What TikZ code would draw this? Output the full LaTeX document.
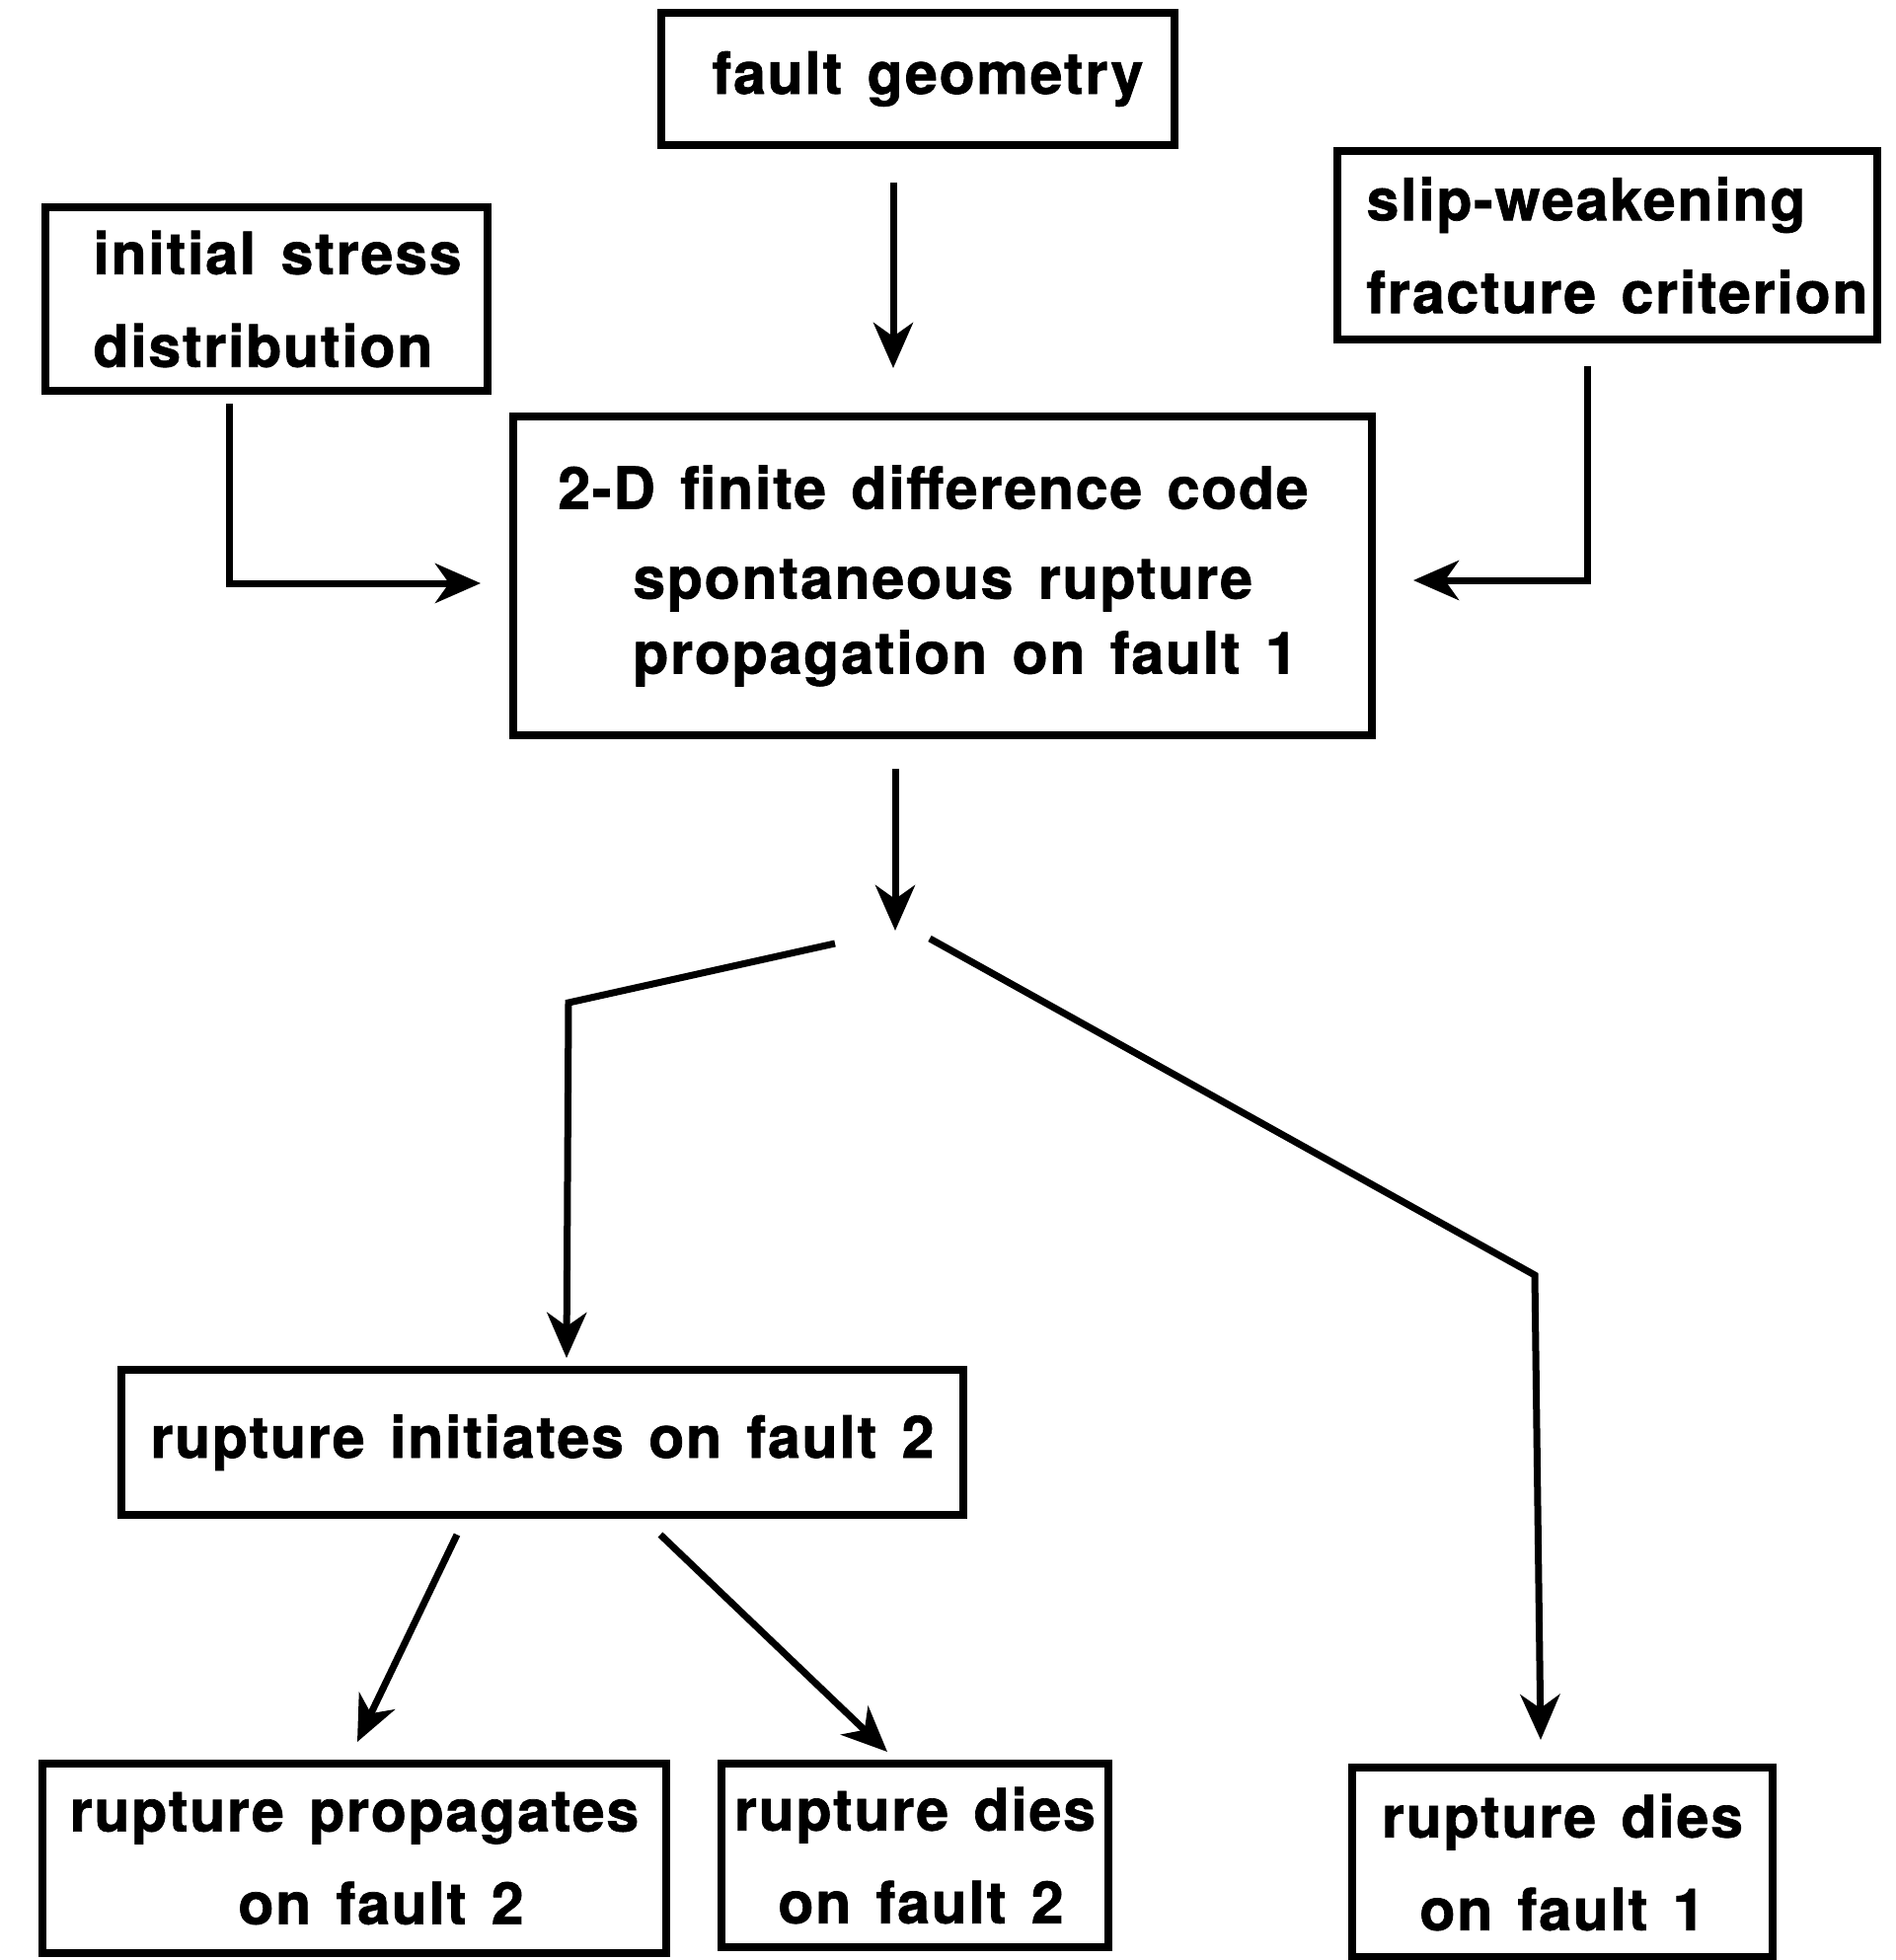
\documentclass[tikz,border=0pt]{standalone}
\usepackage{fontspec}
\setmainfont{TeX Gyre Heros}[LetterSpace=3,WordSpace=1.4,BoldFeatures={FakeBold=1.2}]
\usetikzlibrary{arrows.meta,calc}
\begin{document}
\begin{tikzpicture}[x=1pt,y=-1pt,
  box/.style={draw, line width=8pt, inner sep=0pt, font=\bfseries\fontsize{59}{94}\selectfont},
  arr/.style={line width=7pt, -{Stealth[length=46pt,width=40pt,inset=14pt]}}]
\useasboundingbox (0,0) rectangle (1921,1986);
\node[box, minimum width=520pt, minimum height=134pt] (geom) at (930,80) {\hspace*{20pt}fault geometry};
\node[box, minimum width=448pt, minimum height=186pt, align=left] (stress) at (270,303) {\hspace*{22pt}initial stress\\\hspace*{22pt}distribution};
\node[box, minimum width=547pt, minimum height=191pt, align=left] (slip) at (1628.5,248.5) {\hspace*{20pt}slip-weakening\\\hspace*{20pt}fracture criterion};
\node[box, minimum width=870pt, minimum height=323pt, align=left, font=\bfseries\fontsize{59}{76}\selectfont] (main) at (955,583.5)
  {2-D finite difference code\hspace*{19pt}\\[15pt]\hspace*{76pt}spontaneous rupture\\\hspace*{76pt}propagation on fault 1};
\node[box, minimum width=853pt, minimum height=147pt] (init) at (549.5,1461.5) {rupture initiates on fault 2};
\node[box, minimum width=632pt, minimum height=192pt, align=center] (prop) at (359,1883) {rupture propagates\\\hspace*{54pt}on fault 2};
\node[box, minimum width=392pt, minimum height=186pt, align=center] (dies2) at (927,1880) {rupture dies\\\hspace*{12pt}on fault 2};
\node[box, minimum width=426pt, minimum height=192pt, align=center] (dies1) at (1583,1887) {rupture dies\\on fault 1};

\coordinate (fork) at (907,943);
\coordinate (forkL) at (846,956);
\coordinate (lbend) at (576,1016);
\coordinate (forkR) at (942,951);
\coordinate (rbend) at (1555,1292);

\draw[arr] ($(geom.south)+(-25,34)$) -- ($(main.north)+(-50,-45)$);
\draw[arr] ($(stress.south)+(-38,9)$) |- ($(main.west)+(-29,7.5)$);
\draw[arr] ($(slip.south)+(-20.5,23)$) |- ($(main.east)+(38,4.5)$);
\draw[arr] ($(main.south)+(-48,30)$) -- (fork);
\draw[arr] (forkL) -- (lbend) -- ($(init.north)+(24.5,-8)$);
\draw[arr] (forkR) -- (rbend) -- ($(dies1.north)+(-22,-24)$);
\draw[arr] ($(init.south)+(-86.5,16)$) -- ($(prop.north)+(3,-18)$);
\draw[arr] ($(init.south)+(119.5,16)$) -- ($(dies2.north)+(-28,-8)$);
\end{tikzpicture}
\end{document}
